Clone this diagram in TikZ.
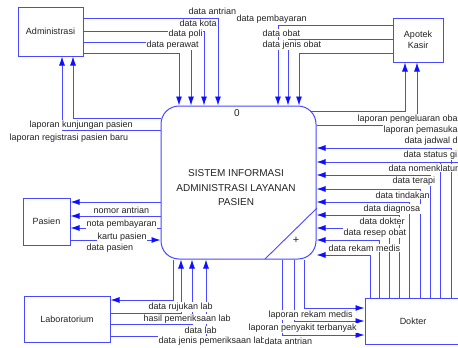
\documentclass[tikz,border=0pt]{standalone}
\usepackage{fontspec}
\setmainfont{Liberation Sans}
\usetikzlibrary{arrows.meta}
\definecolor{ln}{RGB}{72,72,255}
\definecolor{ah}{RGB}{15,15,255}
\definecolor{tx}{RGB}{35,35,35}
\begin{document}
\begin{tikzpicture}[x=1pt,y=-1pt,
 flow/.style={draw=ln,line width=0.9pt,-{Latex[length=9pt,width=6pt,color=ah]}},
 plain/.style={draw=ln,line width=0.9pt},
 ent/.style={draw=ln,line width=1pt,fill=white,text=tx,font=\fontsize{9}{11}\selectfont,inner sep=0pt,align=center},
 lbl/.style={fill=white,text=tx,font=\fontsize{9}{10}\selectfont,inner sep=0.4pt,anchor=west},
]
\useasboundingbox (0,0) rectangle (458,348);
% entities
\node[ent,minimum width=65pt,minimum height=49pt] (admin) at (50.5,31.5) {Administrasi};
\node[ent,minimum width=50pt,minimum height=44pt] (apotek) at (418,40) {Apotek\\Kasir};
\node[ent,minimum width=47pt,minimum height=47pt] (pasien) at (46.5,221.5) {Pasien};
\node[ent,minimum width=86pt,minimum height=46pt] (lab) at (67,319) {Laboratorium};
\node[ent,minimum width=96pt,minimum height=46pt] (dokter) at (413,321) {Dokter};
% process
\node[draw=ln,line width=1pt,fill=white,rounded corners=18pt,minimum width=155pt,minimum height=153pt,inner sep=0pt] (sys) at (238.5,182.5) {};
\node[text=tx,font=\fontsize{10}{14.5}\selectfont,align=center] (systext) at (236,188) {SISTEM INFORMASI\\ADMINISTRASI LAYANAN\\PASIEN};
\node[text=tx,font=\fontsize{10}{12}\selectfont] (sysid) at (237,113) {0};
\node[text=tx,font=\fontsize{11}{12}\selectfont] (plus) at (296,240) {+};
\draw[draw=ln,line width=0.9pt] (265,259) -- (317,208);
% Administrasi -> sistem
\draw[flow] (admin.east |- 0,18) -| (sys.north -| 218,0);
\draw[flow] (admin.east |- 0,31) -| (sys.north -| 204,0);
\draw[flow] (admin.east |- 0,42) -| (sys.north -| 191,0);
\draw[flow] (admin.east |- 0,53) -| (sys.north -| 179,0);
% sistem -> Administrasi
\draw[flow] (sys.west |- 0,118) -| (admin.south -| 73,0);
\draw[flow] (sys.west |- 0,130) -| (admin.south -| 62,0);
% Apotek -> sistem
\draw[flow] (apotek.west |- 0,25) -| (sys.north -| 278,0);
\draw[flow] (apotek.west |- 0,39) -| (sys.north -| 288,0);
\draw[flow] (apotek.west |- 0,53) -| (sys.north -| 299,0);
% sistem -> Apotek
\coordinate (c1) at (310,111);
\draw[flow] (c1) -| (apotek.south -| 405,0);
\draw[flow] (sys.east |- 0,125) -| (apotek.south -| 417,0);
\coordinate (r1) at (460,125);
\coordinate (k1) at (417,125);
\draw[plain] (k1) -- (r1);
% Pasien
\draw[flow] (sys.west |- 0,202) -- (pasien.east |- 0,202);
\draw[flow] (sys.west |- 0,216) -- (pasien.east |- 0,216);
\draw[flow] (sys.west |- 0,228) -- (pasien.east |- 0,228);
\draw[flow] (pasien.east |- 0,240) -- (sys.west |- 0,240);
% Laboratorium
\draw[flow] (sys.south -| 173,0) |- (lab.east |- 0,300);
\draw[flow] (lab.east |- 0,313) -| (sys.south -| 181,0);
\draw[flow] (lab.east |- 0,324) -| (sys.south -| 192,0);
\draw[flow] (lab.east |- 0,336) -| (sys.south -| 206,0);
% sistem -> Dokter
\draw[flow] (sys.south -| 304,0) |- (dokter.west |- 0,308);
\draw[flow] (sys.south -| 294,0) |- (dokter.west |- 0,321);
\draw[flow] (sys.south -| 282,0) |- (dokter.west |- 0,335);
% Dokter -> sistem
\draw[flow] (dokter.north -| 451,0) |- (sys.east |- 0,148);
\draw[flow] (dokter.north -| 440,0) |- (sys.east |- 0,162);
\draw[flow] (dokter.north -| 430,0) |- (sys.east |- 0,175);
\draw[flow] (dokter.north -| 420,0) |- (sys.east |- 0,189);
\draw[flow] (dokter.north -| 409,0) |- (sys.east |- 0,202);
\draw[flow] (dokter.north -| 399,0) |- (sys.east |- 0,215);
\draw[flow] (dokter.north -| 389,0) |- (sys.east |- 0,228);
\draw[flow] (dokter.north -| 379,0) |- (sys.east |- 0,240);
\draw[flow] (dokter.north -| 370,0) |- (sys.east |- 0,255);
\coordinate (k2) at (440,162);
\coordinate (r2) at (460,162);
\draw[plain] (k2) -- (r2);
% labels
\node[lbl] (l1) at (188,11) {data antrian};
\node[lbl] (l2) at (179,23) {data kota};
\node[lbl] (l3) at (168,34) {data poli};
\node[lbl] (l4) at (146,45) {data perawat};
\node[lbl] (l5) at (236,19) {data pembayaran};
\node[lbl] (l6) at (262,33) {data obat};
\node[lbl] (l7) at (262,45) {data jenis obat};
\node[lbl] (l8) at (29,125) {laporan kunjungan pasien};
\node[lbl] (l9) at (9,138) {laporan registrasi pasien baru};
\node[lbl] (l10) at (93,210) {nomor antrian};
\node[lbl] (l11) at (86,224) {nota pembayaran};
\node[lbl] (l12) at (97,237) {kartu pasien};
\node[lbl] (l13) at (86,248) {data pasien};
\node[lbl] (l14) at (148,307) {data rujukan lab};
\node[lbl] (l15) at (143,319) {hasil pemeriksaan lab};
\node[lbl] (l16) at (184,330) {data lab};
\node[lbl] (l17) at (158,341) {data jenis pemeriksaan lab};
\node[lbl] (l18) at (264,341) {data antrian};
\node[lbl] (l19) at (268,315) {laporan rekam medis};
\node[lbl] (l20) at (248,328) {laporan penyakit terbanyak};
\node[lbl] (l21) at (357,119) {laporan pengeluaran oba};
\node[lbl] (l22) at (383,130) {laporan pemasuka};
\node[lbl] (l23) at (404,141) {data jadwal d};
\node[lbl] (l24) at (403,155) {data status gi};
\node[lbl] (l25) at (388,168) {data nomenklatur};
\node[lbl] (l26) at (392,181) {data terapi};
\node[lbl] (l27) at (375,195) {data tindakan};
\node[lbl] (l28) at (363,209) {data diagnosa};
\node[lbl] (l29) at (359,221) {data dokter};
\node[lbl] (l30) at (343,233) {data resep obat};
\node[lbl] (l31) at (328,248) {data rekam medis};
\end{tikzpicture}
\end{document}
